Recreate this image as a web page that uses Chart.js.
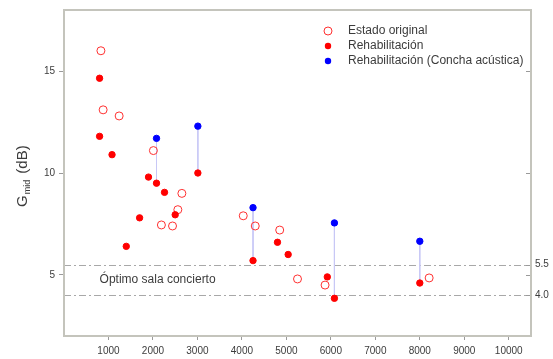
<!DOCTYPE html>
<html>
<head>
<meta charset="utf-8">
<script src="https://cdn.jsdelivr.net/npm/chart.js@4.4.0/dist/chart.umd.min.js"></script>
<style>
    html, body { margin: 0; padding: 0; background: #fff; }
</style>
</head>
<body>
<canvas id="chart" width="553" height="359"></canvas>
<script>
// Estado original (open circles)
const originalFreq = [830, 880, 1240, 2010, 2650, 2560, 2190, 2440, 4030, 4300, 4850, 5250, 5870, 8210];
const originalGain = [16.0, 13.1, 12.8, 11.1, 9.0, 8.2, 7.45, 7.4, 7.9, 7.4, 7.2, 4.8, 4.5, 4.85];

// Rehabilitación (filled red)
const rehabFreq = [800, 800, 1080, 1900, 2080, 2260, 3010, 2500, 1700, 1400, 4250, 4800, 5040, 5920, 6080, 8000];
const rehabGain = [14.65, 11.8, 10.9, 9.8, 9.5, 9.05, 10.0, 7.95, 7.8, 6.4, 5.7, 6.6, 6.0, 4.9, 3.85, 4.6];

// Rehabilitación (Concha acústica) (filled blue)
const shellFreq = [2080, 3010, 4250, 6080, 8000];
const shellGain = [11.7, 12.3, 8.3, 7.55, 6.65];

const xTicks = [1000, 2000, 3000, 4000, 5000, 6000, 7000, 8000, 9000, 10000];
const yTicks = [5, 10, 15];
const optimoLimits = [5.5, 4.0];
const optimoLabel = "Óptimo sala concierto";
const yTitle = ["G", "mid", " (dB)"];

const FONT = '"Liberation Sans", Arial, sans-serif';
const TEXT = '#3c3c3c';
const AXIS = '#c4c4bc';

function toPoints(xs, ys) {
    return xs.map((x, i) => ({ x: x, y: ys[i] }));
}

// vertical connectors: each blue point down to the red point at the same frequency
const connectors = shellFreq.map((f, i) => {
    const j = rehabFreq.indexOf(f);
    return {
        label: '',
        data: [{ x: f, y: shellGain[i] }, { x: f, y: rehabGain[j] }],
        showLine: true,
        borderColor: '#c8c8f6',
        borderWidth: 1,
        pointRadius: 0,
        order: 5
    };
});

const datasets = [
    {
        label: 'Estado original',
        data: toPoints(originalFreq, originalGain),
        pointStyle: 'circle',
        pointRadius: 4,
        borderWidth: 1,
        borderColor: '#ff3030',
        backgroundColor: 'rgba(255,255,255,0)',
        order: 3
    },
    {
        label: 'Rehabilitación',
        data: toPoints(rehabFreq, rehabGain),
        pointRadius: 3.2,
        borderWidth: 1,
        borderColor: '#ff0000',
        backgroundColor: '#ff0000',
        order: 1
    },
    {
        label: 'Rehabilitación (Concha acústica)',
        data: toPoints(shellFreq, shellGain),
        pointRadius: 3.2,
        borderWidth: 1,
        borderColor: '#0000ff',
        backgroundColor: '#0000ff',
        order: 1
    }
].concat(connectors);

// frame, optimum band, right-hand inner ticks, legend and y title
const decorations = {
    id: 'decorations',
    beforeDatasetsDraw(chart) {
        const ctx = chart.ctx;
        const a = chart.chartArea;
        const y = chart.scales.y;
        const x = chart.scales.x;
        ctx.save();
        ctx.strokeStyle = '#a8a8a8';
        ctx.lineWidth = 1;
        ctx.setLineDash([7, 3, 2, 3]);
        optimoLimits.forEach(v => {
            const py = Math.round(y.getPixelForValue(v)) + 0.5;
            ctx.beginPath();
            ctx.moveTo(a.left, py);
            ctx.lineTo(a.right, py);
            ctx.stroke();
        });
        ctx.setLineDash([]);
        ctx.fillStyle = TEXT;
        ctx.font = '12px ' + FONT;
        ctx.textBaseline = 'middle';
        const mid = (optimoLimits[0] + optimoLimits[1]) / 2;
        ctx.fillText(optimoLabel, x.getPixelForValue(800), y.getPixelForValue(mid));
        ctx.restore();
    },
    afterDraw(chart) {
        const ctx = chart.ctx;
        const a = chart.chartArea;
        ctx.save();
        // frame
        ctx.strokeStyle = AXIS;
        ctx.lineWidth = 2;
        ctx.strokeRect(a.left, a.top, a.right - a.left, a.bottom - a.top);

        // right axis: inner ticks
        const y2 = chart.scales.y2;
        ctx.strokeStyle = '#9a9a9a';
        ctx.lineWidth = 1;
        y2.ticks.forEach(t => {
            const py = Math.round(y2.getPixelForValue(t.value)) + 0.5;
            ctx.beginPath();
            ctx.moveTo(a.right - 5, py);
            ctx.lineTo(a.right - 1, py);
            ctx.stroke();
        });

        // legend
        const lx = 328, ly = 31, step = 15;
        chart.data.datasets.slice(0, 3).forEach((ds, i) => {
            const cy = ly + i * step;
            ctx.beginPath();
            ctx.arc(lx, cy, ds.pointRadius, 0, Math.PI * 2);
            if (i === 0) {
                ctx.strokeStyle = ds.borderColor;
                ctx.lineWidth = 1;
                ctx.stroke();
            } else {
                ctx.fillStyle = ds.backgroundColor;
                ctx.fill();
            }
            ctx.fillStyle = TEXT;
            ctx.font = '12px ' + FONT;
            ctx.textBaseline = 'middle';
            ctx.fillText(ds.label, 348, cy);
        });

        // y axis title with subscript
        ctx.translate(27, 207);
        ctx.rotate(-Math.PI / 2);
        ctx.fillStyle = TEXT;
        ctx.textBaseline = 'alphabetic';
        ctx.font = '15px ' + FONT;
        ctx.fillText(yTitle[0], 0, 0);
        let off = ctx.measureText(yTitle[0]).width + 1;
        ctx.font = '9px ' + FONT;
        ctx.fillText(yTitle[1], off, 3);
        off += ctx.measureText(yTitle[1]).width + 2;
        ctx.font = '15px ' + FONT;
        ctx.fillText(yTitle[2], off, 0);
        ctx.restore();
    }
};

const ctx = document.getElementById('chart').getContext('2d');

new Chart(ctx, {
    type: 'scatter',
    data: { datasets: datasets },
    options: {
        responsive: false,
        animation: false,
        layout: { padding: { top: 10 } },
        plugins: {
            legend: { display: false },
            tooltip: { enabled: false }
        },
        scales: {
            x: {
                type: 'linear',
                min: 0,
                max: 10500,
                afterBuildTicks: s => { s.ticks = xTicks.map(v => ({ value: v })); },
                afterFit: s => { s.height = 23; },
                border: { display: false },
                grid: { drawOnChartArea: false, tickLength: 4, color: '#9a9a9a' },
                ticks: {
                    font: { size: 10, family: FONT },
                    color: TEXT,
                    padding: 5,
                    maxRotation: 0,
                    autoSkip: false,
                    callback: v => String(v)
                }
            },
            y: {
                position: 'left',
                min: 2,
                max: 18,
                afterBuildTicks: s => { s.ticks = yTicks.map(v => ({ value: v })); },
                afterFit: s => { s.width = 64; },
                border: { display: false },
                grid: { drawOnChartArea: false, tickLength: 5, color: '#9a9a9a' },
                ticks: {
                    font: { size: 10, family: FONT },
                    color: TEXT,
                    padding: 4,
                    callback: v => String(v)
                }
            },
            y2: {
                position: 'right',
                min: 2,
                max: 18,
                afterBuildTicks: s => {
                    s.ticks = yTicks.concat(optimoLimits).sort((p, q) => p - q).map(v => ({ value: v }));
                },
                afterFit: s => { s.width = 22; },
                border: { display: false },
                grid: { drawOnChartArea: false, drawTicks: false },
                ticks: {
                    font: { size: 10, family: FONT },
                    color: TEXT,
                    padding: 4,
                    autoSkip: false,
                    callback: v => optimoLimits.includes(v) ? v.toFixed(1) : ''
                }
            }
        }
    },
    plugins: [decorations]
});
</script>
</body>
</html>
